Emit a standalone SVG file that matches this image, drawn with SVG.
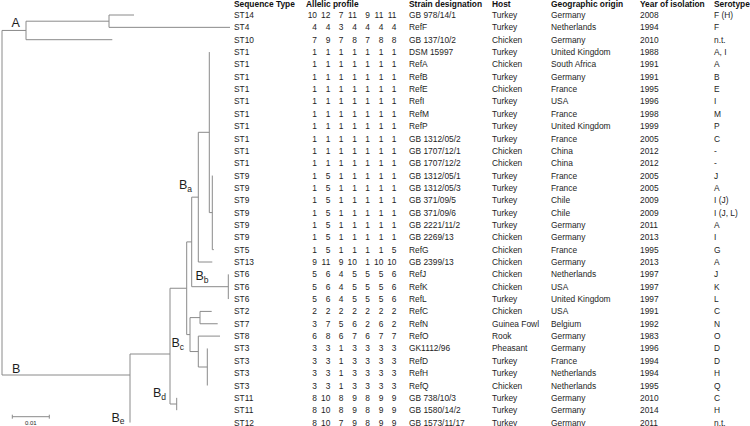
<svg xmlns="http://www.w3.org/2000/svg" width="750" height="426" viewBox="0 0 750 426">
<style>
text{font-family:"Liberation Sans",Arial,sans-serif;font-size:8.4px;fill:#1e1e1e}
.h{font-weight:bold;fill:#111}
.al{text-anchor:end}
.lab{font-size:12.5px;fill:#1e1e1e}
.sub{font-size:8.5px}
.tree{fill:none;stroke:#8a8a8a;stroke-width:1}
.sc{font-size:6px;text-anchor:middle}
</style>
<rect width="750" height="426" fill="#fff"/>
<g id="connectors" class="tree">
<path d="M2,30.45V375M2,30.45H26M26,21.2V39.7M26,21.2H109M26,39.7H112.3M109,15V27.35M109,15H134M109,27.35H230M2,375H130M130,354V422.55M130,354H170M170,288.25V404M170,288.25H186.7M170,404H176.7M176.7,397.85V410.2M186.7,241.9V334.6M186.7,241.9H191.7M186.7,334.6H190M191.7,197.15V286.7M191.7,197.15H198.3M191.7,286.7H228.3M228.3,274.35V299.05M198.3,132.3V262M198.3,132.3H209.3M198.3,262H212.3M209.3,52.05V212.6M209.3,212.6H212.3M212.3,175.55V249.65M212.3,249.65H213.8M190,317.6V351.55M190,317.6H200M190,351.55H198.3M200,311.4V323.75M200,311.4H211.7M200,323.75H217.7M198.3,336.1V367M198.3,336.1H220M198.3,367H207.3M207.3,348.45V385.5"/>
</g>
<g id="clade-labels">
<g id="label-A"><text class="lab" x="11.5" y="27">A</text></g>
<g id="label-B"><text class="lab" x="12" y="372.5">B</text></g>
<g id="label-Ba"><text class="lab" x="179" y="189">B<tspan class="sub" dy="3">a</tspan></text></g>
<g id="label-Bb"><text class="lab" x="195.5" y="280">B<tspan class="sub" dy="3">b</tspan></text></g>
<g id="label-Bc"><text class="lab" x="171.5" y="346.5">B<tspan class="sub" dy="3">c</tspan></text></g>
<g id="label-Bd"><text class="lab" x="153" y="396.5">B<tspan class="sub" dy="3">d</tspan></text></g>
<g id="label-Be"><text class="lab" x="111.5" y="421.5">B<tspan class="sub" dy="2.5">e</tspan></text></g>
</g>
<g id="scale-bar">
<path class="tree" d="M12.3,416.7H49.3M12.3,414.7V418.7M49.3,414.7V418.7"/>
<text class="sc" x="30.8" y="424.5">0.01</text>
</g>
<g id="header">
<text class="h" x="234" y="7">Sequence Type</text>
<text class="h" x="306" y="7">Allelic profile</text>
<text class="h" x="409" y="7">Strain designation</text>
<text class="h" x="492" y="7">Host</text>
<text class="h" x="551" y="7">Geographic origin</text>
<text class="h" x="640" y="7">Year of isolation</text>
<text class="h" x="714" y="7">Serotype</text>
</g>
<g id="rows">
<g id="r0" transform="translate(0,18)"><text x="234">ST14</text><text class="al"><tspan x="317">10</tspan><tspan x="330.3">12</tspan><tspan x="343.5">7</tspan><tspan x="356.8">11</tspan><tspan x="370">9</tspan><tspan x="383.3">11</tspan><tspan x="396.5">11</tspan></text><text x="409">GB 978/14/1</text><text x="492">Turkey</text><text x="551">Germany</text><text x="640">2008</text><text x="714">F (H)</text></g>
<g id="r1" transform="translate(0,30.35)"><text x="234">ST4</text><text class="al"><tspan x="317">4</tspan><tspan x="330.3">4</tspan><tspan x="343.5">3</tspan><tspan x="356.8">4</tspan><tspan x="370">4</tspan><tspan x="383.3">4</tspan><tspan x="396.5">4</tspan></text><text x="409">RefF</text><text x="492">Turkey</text><text x="551">Netherlands</text><text x="640">1994</text><text x="714">F</text></g>
<g id="r2" transform="translate(0,42.7)"><text x="234">ST10</text><text class="al"><tspan x="317">7</tspan><tspan x="330.3">9</tspan><tspan x="343.5">7</tspan><tspan x="356.8">8</tspan><tspan x="370">7</tspan><tspan x="383.3">8</tspan><tspan x="396.5">8</tspan></text><text x="409">GB 137/10/2</text><text x="492">Chicken</text><text x="551">Germany</text><text x="640">2010</text><text x="714">n.t.</text></g>
<g id="r3" transform="translate(0,55.05)"><text x="234">ST1</text><text class="al"><tspan x="317">1</tspan><tspan x="330.3">1</tspan><tspan x="343.5">1</tspan><tspan x="356.8">1</tspan><tspan x="370">1</tspan><tspan x="383.3">1</tspan><tspan x="396.5">1</tspan></text><text x="409">DSM 15997</text><text x="492">Turkey</text><text x="551">United Kingdom</text><text x="640">1988</text><text x="714">A, I</text></g>
<g id="r4" transform="translate(0,67.4)"><text x="234">ST1</text><text class="al"><tspan x="317">1</tspan><tspan x="330.3">1</tspan><tspan x="343.5">1</tspan><tspan x="356.8">1</tspan><tspan x="370">1</tspan><tspan x="383.3">1</tspan><tspan x="396.5">1</tspan></text><text x="409">RefA</text><text x="492">Chicken</text><text x="551">South Africa</text><text x="640">1991</text><text x="714">A</text></g>
<g id="r5" transform="translate(0,79.75)"><text x="234">ST1</text><text class="al"><tspan x="317">1</tspan><tspan x="330.3">1</tspan><tspan x="343.5">1</tspan><tspan x="356.8">1</tspan><tspan x="370">1</tspan><tspan x="383.3">1</tspan><tspan x="396.5">1</tspan></text><text x="409">RefB</text><text x="492">Turkey</text><text x="551">Germany</text><text x="640">1991</text><text x="714">B</text></g>
<g id="r6" transform="translate(0,92.1)"><text x="234">ST1</text><text class="al"><tspan x="317">1</tspan><tspan x="330.3">1</tspan><tspan x="343.5">1</tspan><tspan x="356.8">1</tspan><tspan x="370">1</tspan><tspan x="383.3">1</tspan><tspan x="396.5">1</tspan></text><text x="409">RefE</text><text x="492">Chicken</text><text x="551">France</text><text x="640">1995</text><text x="714">E</text></g>
<g id="r7" transform="translate(0,104.45)"><text x="234">ST1</text><text class="al"><tspan x="317">1</tspan><tspan x="330.3">1</tspan><tspan x="343.5">1</tspan><tspan x="356.8">1</tspan><tspan x="370">1</tspan><tspan x="383.3">1</tspan><tspan x="396.5">1</tspan></text><text x="409">RefI</text><text x="492">Turkey</text><text x="551">USA</text><text x="640">1996</text><text x="714">I</text></g>
<g id="r8" transform="translate(0,116.8)"><text x="234">ST1</text><text class="al"><tspan x="317">1</tspan><tspan x="330.3">1</tspan><tspan x="343.5">1</tspan><tspan x="356.8">1</tspan><tspan x="370">1</tspan><tspan x="383.3">1</tspan><tspan x="396.5">1</tspan></text><text x="409">RefM</text><text x="492">Turkey</text><text x="551">France</text><text x="640">1998</text><text x="714">M</text></g>
<g id="r9" transform="translate(0,129.15)"><text x="234">ST1</text><text class="al"><tspan x="317">1</tspan><tspan x="330.3">1</tspan><tspan x="343.5">1</tspan><tspan x="356.8">1</tspan><tspan x="370">1</tspan><tspan x="383.3">1</tspan><tspan x="396.5">1</tspan></text><text x="409">RefP</text><text x="492">Turkey</text><text x="551">United Kingdom</text><text x="640">1999</text><text x="714">P</text></g>
<g id="r10" transform="translate(0,141.5)"><text x="234">ST1</text><text class="al"><tspan x="317">1</tspan><tspan x="330.3">1</tspan><tspan x="343.5">1</tspan><tspan x="356.8">1</tspan><tspan x="370">1</tspan><tspan x="383.3">1</tspan><tspan x="396.5">1</tspan></text><text x="409">GB 1312/05/2</text><text x="492">Turkey</text><text x="551">France</text><text x="640">2005</text><text x="714">C</text></g>
<g id="r11" transform="translate(0,153.85)"><text x="234">ST1</text><text class="al"><tspan x="317">1</tspan><tspan x="330.3">1</tspan><tspan x="343.5">1</tspan><tspan x="356.8">1</tspan><tspan x="370">1</tspan><tspan x="383.3">1</tspan><tspan x="396.5">1</tspan></text><text x="409">GB 1707/12/1</text><text x="492">Chicken</text><text x="551">China</text><text x="640">2012</text><text x="714">-</text></g>
<g id="r12" transform="translate(0,166.2)"><text x="234">ST1</text><text class="al"><tspan x="317">1</tspan><tspan x="330.3">1</tspan><tspan x="343.5">1</tspan><tspan x="356.8">1</tspan><tspan x="370">1</tspan><tspan x="383.3">1</tspan><tspan x="396.5">1</tspan></text><text x="409">GB 1707/12/2</text><text x="492">Chicken</text><text x="551">China</text><text x="640">2012</text><text x="714">-</text></g>
<g id="r13" transform="translate(0,178.55)"><text x="234">ST9</text><text class="al"><tspan x="317">1</tspan><tspan x="330.3">5</tspan><tspan x="343.5">1</tspan><tspan x="356.8">1</tspan><tspan x="370">1</tspan><tspan x="383.3">1</tspan><tspan x="396.5">1</tspan></text><text x="409">GB 1312/05/1</text><text x="492">Turkey</text><text x="551">France</text><text x="640">2005</text><text x="714">J</text></g>
<g id="r14" transform="translate(0,190.9)"><text x="234">ST9</text><text class="al"><tspan x="317">1</tspan><tspan x="330.3">5</tspan><tspan x="343.5">1</tspan><tspan x="356.8">1</tspan><tspan x="370">1</tspan><tspan x="383.3">1</tspan><tspan x="396.5">1</tspan></text><text x="409">GB 1312/05/3</text><text x="492">Turkey</text><text x="551">France</text><text x="640">2005</text><text x="714">A</text></g>
<g id="r15" transform="translate(0,203.25)"><text x="234">ST9</text><text class="al"><tspan x="317">1</tspan><tspan x="330.3">5</tspan><tspan x="343.5">1</tspan><tspan x="356.8">1</tspan><tspan x="370">1</tspan><tspan x="383.3">1</tspan><tspan x="396.5">1</tspan></text><text x="409">GB 371/09/5</text><text x="492">Turkey</text><text x="551">Chile</text><text x="640">2009</text><text x="714">I (J)</text></g>
<g id="r16" transform="translate(0,215.6)"><text x="234">ST9</text><text class="al"><tspan x="317">1</tspan><tspan x="330.3">5</tspan><tspan x="343.5">1</tspan><tspan x="356.8">1</tspan><tspan x="370">1</tspan><tspan x="383.3">1</tspan><tspan x="396.5">1</tspan></text><text x="409">GB 371/09/6</text><text x="492">Turkey</text><text x="551">Chile</text><text x="640">2009</text><text x="714">I (J, L)</text></g>
<g id="r17" transform="translate(0,227.95)"><text x="234">ST9</text><text class="al"><tspan x="317">1</tspan><tspan x="330.3">5</tspan><tspan x="343.5">1</tspan><tspan x="356.8">1</tspan><tspan x="370">1</tspan><tspan x="383.3">1</tspan><tspan x="396.5">1</tspan></text><text x="409">GB 2221/11/2</text><text x="492">Turkey</text><text x="551">Germany</text><text x="640">2011</text><text x="714">A</text></g>
<g id="r18" transform="translate(0,240.3)"><text x="234">ST9</text><text class="al"><tspan x="317">1</tspan><tspan x="330.3">5</tspan><tspan x="343.5">1</tspan><tspan x="356.8">1</tspan><tspan x="370">1</tspan><tspan x="383.3">1</tspan><tspan x="396.5">1</tspan></text><text x="409">GB 2269/13</text><text x="492">Chicken</text><text x="551">Germany</text><text x="640">2013</text><text x="714">I</text></g>
<g id="r19" transform="translate(0,252.65)"><text x="234">ST5</text><text class="al"><tspan x="317">1</tspan><tspan x="330.3">5</tspan><tspan x="343.5">1</tspan><tspan x="356.8">1</tspan><tspan x="370">1</tspan><tspan x="383.3">1</tspan><tspan x="396.5">5</tspan></text><text x="409">RefG</text><text x="492">Chicken</text><text x="551">France</text><text x="640">1995</text><text x="714">G</text></g>
<g id="r20" transform="translate(0,265)"><text x="234">ST13</text><text class="al"><tspan x="317">9</tspan><tspan x="330.3">11</tspan><tspan x="343.5">9</tspan><tspan x="356.8">10</tspan><tspan x="370">1</tspan><tspan x="383.3">10</tspan><tspan x="396.5">10</tspan></text><text x="409">GB 2399/13</text><text x="492">Chicken</text><text x="551">Germany</text><text x="640">2013</text><text x="714">A</text></g>
<g id="r21" transform="translate(0,277.35)"><text x="234">ST6</text><text class="al"><tspan x="317">5</tspan><tspan x="330.3">6</tspan><tspan x="343.5">4</tspan><tspan x="356.8">5</tspan><tspan x="370">5</tspan><tspan x="383.3">5</tspan><tspan x="396.5">6</tspan></text><text x="409">RefJ</text><text x="492">Chicken</text><text x="551">Netherlands</text><text x="640">1997</text><text x="714">J</text></g>
<g id="r22" transform="translate(0,289.7)"><text x="234">ST6</text><text class="al"><tspan x="317">5</tspan><tspan x="330.3">6</tspan><tspan x="343.5">4</tspan><tspan x="356.8">5</tspan><tspan x="370">5</tspan><tspan x="383.3">5</tspan><tspan x="396.5">6</tspan></text><text x="409">RefK</text><text x="492">Chicken</text><text x="551">USA</text><text x="640">1997</text><text x="714">K</text></g>
<g id="r23" transform="translate(0,302.05)"><text x="234">ST6</text><text class="al"><tspan x="317">5</tspan><tspan x="330.3">6</tspan><tspan x="343.5">4</tspan><tspan x="356.8">5</tspan><tspan x="370">5</tspan><tspan x="383.3">5</tspan><tspan x="396.5">6</tspan></text><text x="409">RefL</text><text x="492">Turkey</text><text x="551">United Kingdom</text><text x="640">1997</text><text x="714">L</text></g>
<g id="r24" transform="translate(0,314.4)"><text x="234">ST2</text><text class="al"><tspan x="317">2</tspan><tspan x="330.3">2</tspan><tspan x="343.5">2</tspan><tspan x="356.8">2</tspan><tspan x="370">2</tspan><tspan x="383.3">2</tspan><tspan x="396.5">2</tspan></text><text x="409">RefC</text><text x="492">Chicken</text><text x="551">USA</text><text x="640">1991</text><text x="714">C</text></g>
<g id="r25" transform="translate(0,326.75)"><text x="234">ST7</text><text class="al"><tspan x="317">3</tspan><tspan x="330.3">7</tspan><tspan x="343.5">5</tspan><tspan x="356.8">6</tspan><tspan x="370">2</tspan><tspan x="383.3">6</tspan><tspan x="396.5">2</tspan></text><text x="409">RefN</text><text x="492">Guinea Fowl</text><text x="551">Belgium</text><text x="640">1992</text><text x="714">N</text></g>
<g id="r26" transform="translate(0,339.1)"><text x="234">ST8</text><text class="al"><tspan x="317">6</tspan><tspan x="330.3">8</tspan><tspan x="343.5">6</tspan><tspan x="356.8">7</tspan><tspan x="370">6</tspan><tspan x="383.3">7</tspan><tspan x="396.5">7</tspan></text><text x="409">RefO</text><text x="492">Rook</text><text x="551">Germany</text><text x="640">1983</text><text x="714">O</text></g>
<g id="r27" transform="translate(0,351.45)"><text x="234">ST3</text><text class="al"><tspan x="317">3</tspan><tspan x="330.3">3</tspan><tspan x="343.5">1</tspan><tspan x="356.8">3</tspan><tspan x="370">3</tspan><tspan x="383.3">3</tspan><tspan x="396.5">3</tspan></text><text x="409">GK1112/96</text><text x="492">Pheasant</text><text x="551">Germany</text><text x="640">1996</text><text x="714">D</text></g>
<g id="r28" transform="translate(0,363.8)"><text x="234">ST3</text><text class="al"><tspan x="317">3</tspan><tspan x="330.3">3</tspan><tspan x="343.5">1</tspan><tspan x="356.8">3</tspan><tspan x="370">3</tspan><tspan x="383.3">3</tspan><tspan x="396.5">3</tspan></text><text x="409">RefD</text><text x="492">Turkey</text><text x="551">France</text><text x="640">1994</text><text x="714">D</text></g>
<g id="r29" transform="translate(0,376.15)"><text x="234">ST3</text><text class="al"><tspan x="317">3</tspan><tspan x="330.3">3</tspan><tspan x="343.5">1</tspan><tspan x="356.8">3</tspan><tspan x="370">3</tspan><tspan x="383.3">3</tspan><tspan x="396.5">3</tspan></text><text x="409">RefH</text><text x="492">Turkey</text><text x="551">Netherlands</text><text x="640">1994</text><text x="714">H</text></g>
<g id="r30" transform="translate(0,388.5)"><text x="234">ST3</text><text class="al"><tspan x="317">3</tspan><tspan x="330.3">3</tspan><tspan x="343.5">1</tspan><tspan x="356.8">3</tspan><tspan x="370">3</tspan><tspan x="383.3">3</tspan><tspan x="396.5">3</tspan></text><text x="409">RefQ</text><text x="492">Chicken</text><text x="551">Netherlands</text><text x="640">1995</text><text x="714">Q</text></g>
<g id="r31" transform="translate(0,400.85)"><text x="234">ST11</text><text class="al"><tspan x="317">8</tspan><tspan x="330.3">10</tspan><tspan x="343.5">8</tspan><tspan x="356.8">9</tspan><tspan x="370">8</tspan><tspan x="383.3">9</tspan><tspan x="396.5">9</tspan></text><text x="409">GB 738/10/3</text><text x="492">Turkey</text><text x="551">Germany</text><text x="640">2010</text><text x="714">C</text></g>
<g id="r32" transform="translate(0,413.2)"><text x="234">ST11</text><text class="al"><tspan x="317">8</tspan><tspan x="330.3">10</tspan><tspan x="343.5">8</tspan><tspan x="356.8">9</tspan><tspan x="370">8</tspan><tspan x="383.3">9</tspan><tspan x="396.5">9</tspan></text><text x="409">GB 1580/14/2</text><text x="492">Turkey</text><text x="551">Germany</text><text x="640">2014</text><text x="714">H</text></g>
<g id="r33" transform="translate(0,425.55)"><text x="234">ST12</text><text class="al"><tspan x="317">8</tspan><tspan x="330.3">10</tspan><tspan x="343.5">7</tspan><tspan x="356.8">9</tspan><tspan x="370">8</tspan><tspan x="383.3">9</tspan><tspan x="396.5">9</tspan></text><text x="409">GB 1573/11/17</text><text x="492">Turkey</text><text x="551">Germany</text><text x="640">2011</text><text x="714">n.t.</text></g>
</g>
</svg>
